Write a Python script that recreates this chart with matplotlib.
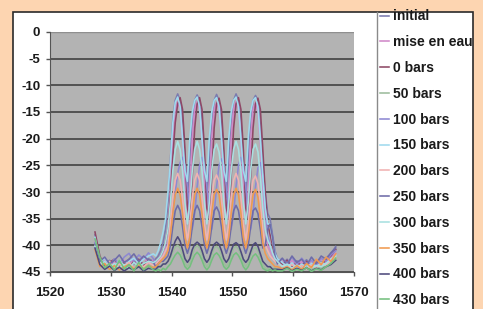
import numpy as np
import matplotlib
matplotlib.use("Agg")
import matplotlib.pyplot as plt
from matplotlib.patches import Rectangle
from matplotlib.lines import Line2D

# wavelength sampling grid (nm): coarse on the noise floor, finer across the comb
wl = np.round(np.concatenate([1527.4 + 0.8 * np.arange(13),
                              1537.4 + 0.4 * np.arange(51),
                              1558.2 + 0.8 * np.arange(12)]), 2)

labels = ["initial", "mise en eau", "0 bars", "50 bars", "100 bars", "150 bars",
          "200 bars", "250 bars", "300 bars", "350 bars", "400 bars", "430 bars"]

initial = [-38, -42.5, -43.5, -42.8, -43.8, -43, -44, -42.6, -43.5, -42.8, -43.6, -42.5, -43,
           -42.5, -42, -41, -39.5, -37, -32, -24, -16.5, -12.8, -11.6,
           -12.8, -16.5, -24, -31, -24, -16.5, -12.8, -11.8,
           -12.8, -16.5, -24, -31, -24, -16.5, -12.8, -11.7,
           -12.9, -16.5, -24, -31, -24, -16.5, -12.8, -11.6,
           -12.8, -16.5, -24, -31, -24, -16.5, -12.8, -11.9,
           -12.8, -17, -25, -30, -34, -35, -38, -41, -42.5,
           -43.5, -42.6, -43.8, -42.9, -43.6, -42.7, -43.8, -42.8, -43.2, -42.4, -41.6, -40.2]
mise_en_eau = [-39, -43, -42.6, -44, -43.2, -44.2, -42.8, -43.8, -42.4, -43.6, -42.2, -43.4, -42.8,
               -43, -42.5, -42, -41.5, -40, -37, -30, -20, -14.5, -13,
               -14.5, -20, -30, -36, -30, -20, -14.5, -13,
               -14.5, -20, -30, -36, -30, -20, -14.5, -13.2,
               -14.7, -20, -30, -36, -30, -20, -14.5, -13,
               -14.5, -20, -30, -36, -30, -20, -14.5, -13.2,
               -15, -21, -30, -37, -40, -41, -42, -42.5, -43,
               -43, -43.8, -42.8, -44, -43, -43.9, -42.9, -43.6, -42.6, -43.2, -42.2, -41.5]
bars_0 = [-37.5, -42, -44, -43.2, -42.6, -43.8, -43.2, -44.2, -43, -42.6, -43.8, -42.8, -43.2,
          -43, -42.5, -42, -41, -39.5, -37, -31, -23.5, -17, -13.5,
          -12.3, -14.5, -22, -33, -35, -27, -18, -13.5,
          -12.3, -14.5, -22, -33, -35, -27, -18, -13.5,
          -12.4, -14.5, -22, -33, -35, -27, -18, -13.5,
          -12.3, -14.5, -22, -33, -35, -27, -18, -13.5,
          -12.4, -14.5, -22, -30, -36, -38, -40, -42, -43,
          -43.6, -42.8, -44, -43.2, -43.8, -43, -44.1, -43.2, -43.6, -42.8, -42, -40.8]
bars_50 = [-40.5, -43.5, -44.4, -43.8, -44.6, -43.6, -44.5, -43.9, -44.6, -43.5, -44.2, -43.7, -44,
           -44.2, -43.8, -44, -43.5, -43.6, -43, -42.4, -41.2, -40.3, -40,
           -40.5, -41.8, -43.2, -44, -43.2, -41.8, -40.5, -40,
           -40.5, -41.8, -43.2, -44, -43.2, -41.8, -40.5, -40.2,
           -40.7, -41.8, -43.2, -44, -43.2, -41.8, -40.5, -40.2,
           -40.7, -41.8, -43.2, -44, -43.2, -41.8, -40.6, -40.4,
           -41, -42.4, -43.6, -44.2, -44.5, -44, -44.4, -44.2, -44.6,
           -44.4, -43.8, -44.6, -44, -44.5, -43.9, -44.6, -44, -44.3, -43.6, -43, -42]
bars_100 = [-39.5, -42.8, -43.2, -44, -42.5, -43.6, -42.2, -41.5, -43, -41.8, -42.6, -41.4, -42.5,
            -43.5, -43, -42.5, -42, -41, -39.5, -37, -34, -30, -26.5,
            -24.5, -23.5, -25, -29, -34, -37, -34, -29,
            -25, -23.5, -25, -29, -34, -37, -34, -29,
            -25, -23.8, -25, -29, -34, -37, -34, -29,
            -25, -23.5, -25, -29, -34, -37, -34, -29,
            -25.5, -24.5, -27, -33, -38, -40, -41.5, -42.5, -43,
            -42.5, -43.4, -42.2, -43.6, -42.4, -43.5, -42.8, -43.8, -42.4, -43, -41.8, -41]
bars_150 = [-38.5, -43.2, -42.4, -43.6, -44, -42.8, -43.8, -43, -42.4, -43.4, -42.6, -42, -41.6,
            -42, -41, -39.5, -37.5, -35, -30, -24.5, -17, -13.2, -12.2,
            -14, -20, -26, -28, -20, -15, -12.8, -12.2,
            -14, -20, -26, -28, -20, -15, -12.8, -12.3,
            -14, -20, -26, -28, -20, -15, -12.8, -12.2,
            -14, -20, -26, -28, -20, -15, -12.8, -12.3,
            -14, -20, -27, -33, -36, -36, -39, -41.5, -42.5,
            -43.2, -44, -43.3, -44.2, -43.5, -44.1, -43.4, -44, -43.2, -43.6, -42.6, -41.8]
bars_200 = [-40, -43.4, -44.2, -43, -44.4, -43.5, -44, -43.2, -44.3, -43.6, -44, -43.2, -43.8,
            -43.5, -43, -42.5, -42, -41, -40, -36, -31, -27.8, -26.5,
            -27.8, -31, -36, -39, -36, -31, -27.8, -26.5,
            -27.8, -31, -36, -39, -36, -31, -27.8, -26.8,
            -28, -31, -36, -39, -36, -31, -27.8, -26.5,
            -27.8, -31, -36, -39, -36, -31, -27.8, -27,
            -28.5, -32, -37, -40, -41, -42, -42.5, -43, -43.5,
            -43.8, -44.3, -43.6, -44.5, -43.8, -44.4, -43.7, -44.2, -43.4, -43.8, -42.8, -42.4]
bars_250 = [-39.8, -43, -42.2, -43.5, -42.8, -41.8, -43.2, -42.6, -41.6, -43, -42, -42.8, -43.2,
            -44, -43.5, -43, -43, -42.5, -42, -40, -36.5, -33.5, -32.5,
            -33.5, -36.5, -40, -41.5, -40, -36.5, -33.5, -32.5,
            -33.5, -36.5, -40, -41.5, -40, -36.5, -33.5, -32.8,
            -33.8, -36.5, -40, -41.5, -40, -36.5, -33.5, -32.5,
            -33.5, -36.5, -40, -41.5, -40, -36.5, -33.5, -33,
            -34, -37, -40.5, -40, -37, -36, -38.5, -42, -43.5,
            -42.4, -43.6, -42, -43.2, -42.6, -43.8, -42.2, -43.4, -42, -42.6, -41.4, -40.5]
bars_300 = [-40.2, -43.8, -43, -44.2, -43.4, -44.3, -43.6, -44.4, -43.2, -44, -43.4, -43, -43.2,
            -43, -42.5, -42, -41, -39.5, -37, -32, -26, -22, -20.5,
            -22, -26, -32, -36, -32, -26, -22, -20.5,
            -22, -26, -32, -36, -32, -26, -22, -21,
            -22.5, -26, -32, -36, -32, -26, -22, -20.5,
            -22, -26, -32, -36, -32, -26, -22, -21,
            -22.5, -27, -33, -37, -39, -40, -41.5, -42.5, -43,
            -44, -43.5, -44.3, -43.7, -44.4, -43.6, -44.2, -43.8, -44, -43.4, -42.6, -42]
bars_350 = [-40.8, -44, -43.4, -44.5, -43.8, -44.6, -44, -43.6, -44.4, -43.8, -44.5, -43.8, -44.2,
            -44, -43.5, -43, -42.5, -42, -41, -38, -34, -30.5, -29.3,
            -30.5, -34, -38.5, -40.5, -38.5, -34, -30.5, -29.3,
            -30.5, -34, -38.5, -40.5, -38.5, -34, -30.5, -29.5,
            -30.5, -34, -38.5, -40.5, -38.5, -34, -30.5, -29.3,
            -30.5, -34, -38.5, -40.5, -38.5, -34, -30.5, -29.5,
            -31, -35, -39.5, -41.5, -42.5, -43, -43.5, -44, -44,
            -44.4, -44, -44.6, -43.8, -44.5, -43.4, -44.2, -42.6, -43.6, -42.2, -43, -41.6]
bars_400 = [-40.5, -43.6, -44.5, -43.9, -44.7, -44.1, -44.8, -44.2, -44.6, -44, -44.8, -44.3, -44.5,
            -44.5, -44, -44, -43.5, -43.5, -43, -42, -40.5, -39.2, -38.4,
            -39.2, -40.8, -42.5, -43.2, -42.5, -40.8, -39.8, -39.4,
            -39.8, -41, -42.5, -43.2, -42.5, -41, -39.8, -39.4,
            -39.8, -41, -42.5, -43.2, -42.5, -41, -39.8, -39.5,
            -39.9, -41.2, -42.6, -43.2, -42.6, -41.2, -39.9, -39.5,
            -40.2, -41.6, -43, -43.5, -44, -44, -44.5, -44.5, -44.5,
            -44.6, -44.2, -44.8, -44.3, -44.7, -44.2, -44.8, -44.3, -44.6, -44, -43.6, -42.8]
bars_430 = [-38.8, -42.2, -44.2, -43.4, -44.6, -42.8, -44.4, -43.6, -44.8, -43.2, -44.6, -43.8, -44.6,
            -44.8, -44.5, -44.8, -44.3, -44.6, -44, -43.5, -42.6, -41.8, -41.3,
            -41.8, -42.8, -44, -44.5, -44, -42.8, -41.8, -41.3,
            -41.8, -42.8, -44, -44.6, -44, -42.8, -41.8, -41.4,
            -41.9, -42.8, -44, -44.5, -44, -42.8, -41.8, -41.4,
            -41.9, -42.8, -44, -44.6, -44, -42.9, -42, -41.6,
            -42.2, -43.2, -44.3, -44.6, -44.8, -44.5, -44.8, -44.6, -44.8,
            -44.8, -44.3, -44.9, -44.5, -44.8, -44.2, -44.9, -44.4, -44.7, -44, -43.4, -42.4]

series = [initial, mise_en_eau, bars_0, bars_50, bars_100, bars_150,
          bars_200, bars_250, bars_300, bars_350, bars_400, bars_430]
colors = ["#7B7BAF", "#D088C8", "#8E4866", "#9CBC9C", "#8E88D2", "#A0DAEE",
          "#F0B2B2", "#6E6CA8", "#A8E0E0", "#F09A50", "#4E4A7C", "#74C07E"]

x_ticks = [1520, 1530, 1540, 1550, 1560, 1570]
y_ticks = [0, -5, -10, -15, -20, -25, -30, -35, -40, -45]

W, H = 483, 309
plt.rcParams["font.family"] = ["Liberation Sans", "DejaVu Sans"]
plt.rcParams["axes.unicode_minus"] = False
fig = plt.figure(figsize=(W / 100, H / 100), dpi=100)
fig.patch.set_facecolor("#FDD5B1")

# white chart panel
fig.patches.append(Rectangle((13 / W, -0.05), (473 - 13) / W, 1 - 12 / H + 0.05,
                             transform=fig.transFigure, facecolor="white",
                             edgecolor="#2a2a2a", linewidth=1.2, zorder=-5))
# legend separator line
fig.lines.append(Line2D([377 / W, 377 / W], [0, 1 - 12 / H], transform=fig.transFigure,
                        color="#8a8a8a", linewidth=1.0, zorder=-4))

ax = fig.add_axes([50 / W, 1 - 272 / H, (354 - 50) / W, (272 - 32) / H])
ax.set_zorder(2)
ax.set_facecolor("#B3B3B3")
for vals, c, lab in zip(series, colors, labels):
    assert len(vals) == len(wl), lab
    ax.plot(wl, vals, color=c, linewidth=1.15, label=lab)

ax.set_xlim(1520, 1570)
ax.set_ylim(-45, 0)
ax.set_xticks(x_ticks)
ax.set_yticks(y_ticks)
ax.yaxis.grid(True, color="#4a4a4a", linewidth=1.3)
ax.get_ygridlines()[0].set_color("#8f8f8f")
ax.get_ygridlines()[0].set_linewidth(1.0)
ax.set_axisbelow(True)
for s in ["top", "right"]:
    ax.spines[s].set_visible(False)
ax.spines["left"].set_color("#555555")
ax.spines["bottom"].set_color("#555555")
ax.tick_params(axis="both", direction="out", length=3, width=1, color="#555555",
               labelsize=9.5)
ax.tick_params(axis="x", pad=8)
ax.tick_params(axis="y", pad=4)
for t in ax.get_xticklabels() + ax.get_yticklabels():
    t.set_fontweight("bold")
    t.set_color("#1a1a1a")

handles, labs = ax.get_legend_handles_labels()
leg = fig.legend(handles, labs, loc="upper left", bbox_to_anchor=(379 / W, 1 - 8 / H),
                 frameon=False, handlelength=0.6, handletextpad=0.3,
                 labelspacing=0.85, borderaxespad=0, borderpad=0.1,
                 prop={"size": 10, "weight": "bold"})
leg.set_zorder(3)
for t in leg.get_texts():
    t.set_color("#1a1a1a")

fig.savefig("out.png", dpi=100, facecolor=fig.get_facecolor())
